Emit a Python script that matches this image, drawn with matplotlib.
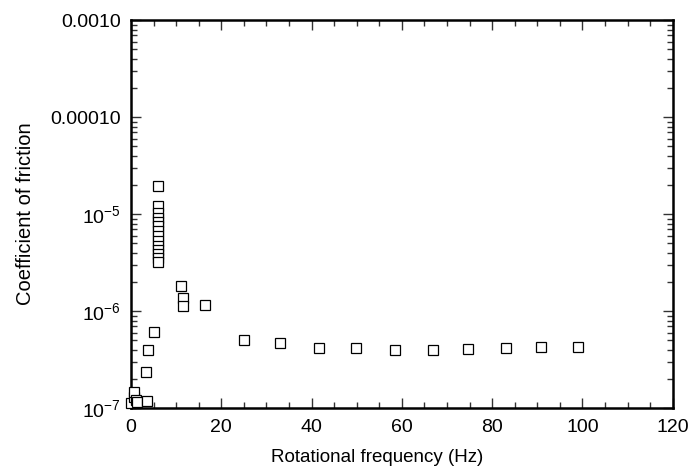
import matplotlib
matplotlib.use("Agg")
import matplotlib.pyplot as plt
from matplotlib.ticker import FixedLocator, FixedFormatter, LogLocator, MultipleLocator, NullFormatter

plt.rcParams['font.family'] = ['Liberation Sans', 'DejaVu Sans']

# rotational frequency (Hz) and coefficient of friction
freq = [0.0, 0.6, 0.7, 1.0, 1.3, 3.5,
        3.3, 3.7, 5.1,
        5.9, 5.9, 5.9, 5.9, 5.9, 5.9, 5.9, 5.9, 5.9, 5.9, 5.9, 5.9, 5.9, 5.9,
        11.1, 11.6, 11.6, 16.4,
        25.1, 33.0, 41.7, 49.8, 58.4, 66.9, 74.6, 83.0, 90.9, 99.1]
cof = [1.12e-7, 1.3e-7, 1.45e-7, 1.2e-7, 1.15e-7, 1.17e-7,
       2.37e-7, 3.96e-7, 6.1e-7,
       1.95e-5, 1.21e-5, 1.02e-5, 9.1e-6, 8.3e-6, 7.5e-6, 6.7e-6, 5.9e-6,
       5.3e-6, 4.7e-6, 4.3e-6, 3.9e-6, 3.5e-6, 3.2e-6,
       1.81e-6, 1.36e-6, 1.13e-6, 1.15e-6,
       5.0e-7, 4.7e-7, 4.2e-7, 4.2e-7, 3.96e-7, 4.0e-7, 4.1e-7, 4.2e-7, 4.3e-7, 4.3e-7]

ytick_vals = [1e-7, 1e-6, 1e-5, 1e-4, 1e-3]
ytick_labels = [r'$\mathregular{10^{-7}}$', r'$\mathregular{10^{-6}}$',
                r'$\mathregular{10^{-5}}$', '0.00010', '0.0010']

fig = plt.figure(figsize=(6.95, 4.68), dpi=100)
ax = fig.add_axes([0.1885, 0.128, 0.7795, 0.829])

ax.plot(freq, cof, 's', markersize=6.5, markerfacecolor='white',
        markeredgecolor='black', markeredgewidth=0.9, clip_on=False, zorder=3)

ax.set_yscale('log')
ax.set_xlim(0, 120)
ax.set_ylim(1e-7, 1e-3)

ax.xaxis.set_major_locator(MultipleLocator(20))
ax.xaxis.set_minor_locator(MultipleLocator(5))
ax.yaxis.set_major_locator(FixedLocator(ytick_vals))
ax.yaxis.set_major_formatter(FixedFormatter(ytick_labels))
ax.yaxis.set_minor_locator(LogLocator(base=10, subs=range(2, 10)))
ax.yaxis.set_minor_formatter(NullFormatter())

ax.tick_params(which='both', direction='in', top=True, right=True,
               labelsize=14, width=1.0, color='#333333')
ax.tick_params(which='major', length=7)
ax.tick_params(axis='x', which='major', pad=8)
ax.tick_params(axis='y', which='major', pad=7)
ax.tick_params(which='minor', length=4.5)

for s in ax.spines.values():
    s.set_linewidth(1.8)

ax.set_xlabel('Rotational frequency (Hz)', fontsize=13.5)
ax.set_ylabel('Coefficient of friction', fontsize=14.5)
ax.xaxis.set_label_coords(0.455, -0.105)
ax.yaxis.set_label_coords(-0.177, 0.5)

fig.savefig('out.png', dpi=100)
